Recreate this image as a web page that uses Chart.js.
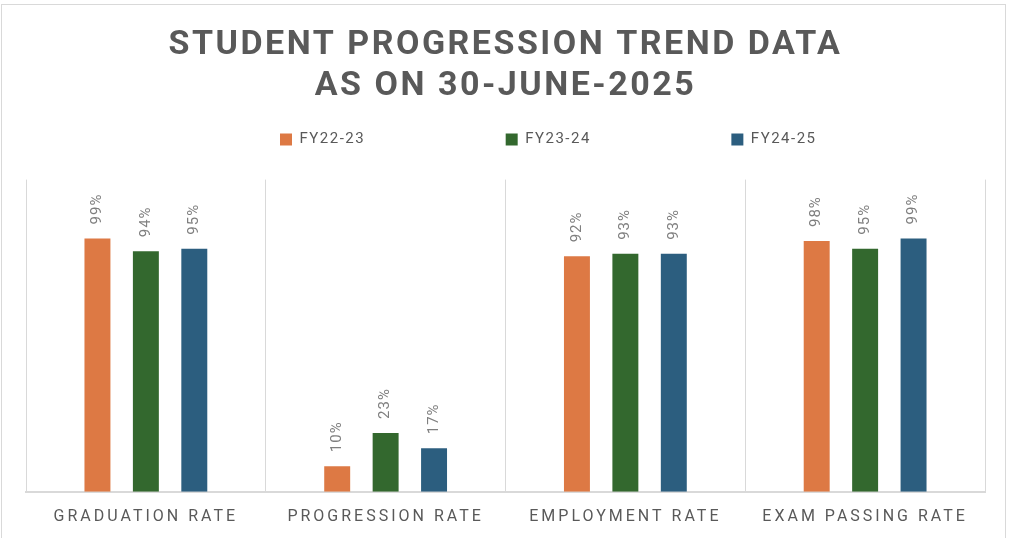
<!DOCTYPE html>
<html>
<head>
<meta charset="utf-8">
<script src="https://cdn.jsdelivr.net/npm/chart.js@4.4.1/dist/chart.umd.min.js"></script>
<style>
  html, body { margin: 0; padding: 0; background: #fff; overflow: hidden; }
  #frame { position: absolute; left: 1px; top: 4px; width: 1005px; height: 560px; border: 1px solid #d9d9d9; box-sizing: border-box; }
  #wrap { position: absolute; left: 0; top: 0; width: 1016px; height: 538px; }
</style>
</head>
<body>
<div id="frame"></div>
<div id="wrap"><canvas id="chart"></canvas></div>
<script>
// categories + series (percent)
const categories = ["GRADUATION RATE", "PROGRESSION RATE", "EMPLOYMENT RATE", "EXAM PASSING RATE"];
const seriesNames = ["FY22-23", "FY23-24", "FY24-25"];
const fy2223 = [99, 10, 92, 98];
const fy2324 = [94, 23, 93, 95];
const fy2425 = [95, 17, 93, 99];
const seriesColors = ["#DD7944", "#33682E", "#2C5E7F"];

const textGray = "#595959";

// letter spacing per chart part (canvas ctx.letterSpacing)
function spaced(obj, name, sp) {
  if (!obj || obj["_sp_" + name]) return;
  const orig = obj[name];
  obj[name] = function (...args) {
    const ctx = this.ctx;
    const prev = ctx.letterSpacing;
    ctx.letterSpacing = sp;
    orig.apply(this, args);
    ctx.letterSpacing = prev;
  };
  obj["_sp_" + name] = true;
}

const tweaks = {
  id: "tweaks",
  afterLayout(chart) {
    // move the legend row to where the original sits
    const lg = chart.legend;
    const dx = 280 - (lg.left + 10);
    const dy = 122 - lg.top;
    lg.left += dx; lg.right += dx;
    lg.top += dy; lg.bottom += dy;
  },
  beforeDraw(chart) {
    spaced(chart.titleBlock, "draw", "2.5px");
    spaced(chart.legend, "draw", "1.5px");
    spaced(chart.scales.x, "drawLabels", "3px");
  },
  afterDatasetsDraw(chart) {
    // rotated value labels above each bar
    const ctx = chart.ctx;
    chart.data.datasets.forEach((ds, i) => {
      chart.getDatasetMeta(i).data.forEach((bar, j) => {
        ctx.save();
        ctx.translate(bar.x, bar.y - 14);
        ctx.rotate(-Math.PI / 2);
        ctx.font = "15px Roboto";
        ctx.letterSpacing = "1px";
        ctx.fillStyle = "#7f7f7f";
        ctx.textAlign = "left";
        ctx.textBaseline = "middle";
        ctx.fillText(ds.data[j] + "%", 0, 0);
        ctx.restore();
      });
    });
  }
};

new Chart(document.getElementById("chart"), {
  type: "bar",
  data: {
    labels: categories,
    datasets: [
      { label: seriesNames[0], data: fy2223, backgroundColor: seriesColors[0] },
      { label: seriesNames[1], data: fy2324, backgroundColor: seriesColors[1] },
      { label: seriesNames[2], data: fy2425, backgroundColor: seriesColors[2] }
    ]
  },
  options: {
    responsive: true,
    maintainAspectRatio: false,
    animation: false,
    datasets: { bar: { categoryPercentage: 0.606, barPercentage: 0.536 } },
    layout: { padding: { left: 26, right: 31, top: 0, bottom: -5 } },
    plugins: {
      tooltip: { enabled: false },
      title: {
        display: true,
        text: ["STUDENT PROGRESSION TREND DATA", "AS ON 30-JUNE-2025"],
        color: textGray,
        font: { family: "Roboto", size: 34, weight: "bold", lineHeight: 1.2 },
        padding: { top: 25, bottom: 38 }
      },
      legend: {
        display: true,
        align: "start",
        labels: {
          color: textGray,
          font: { family: "Roboto", size: 15 },
          boxWidth: 12,
          boxHeight: 12,
          padding: 10,
          generateLabels(chart) {
            const items = Chart.defaults.plugins.legend.labels.generateLabels(chart);
            const ctx = chart.ctx;
            ctx.save();
            ctx.font = "15px Roboto";
            ctx.letterSpacing = "1.5px";
            items.forEach((it, i) => {
              if (i === items.length - 1) return;
              let t = it.text;
              while (ctx.measureText(t + "\u00a0").width <= 198) t += "\u00a0";
              it.text = t;
            });
            ctx.restore();
            return items;
          }
        }
      }
    },
    scales: {
      x: {
        grid: { display: true, offset: true, color: "#d9d9d9", lineWidth: 1, drawTicks: false },
        border: { display: true, color: "#d9d9d9", width: 2 },
        ticks: { color: textGray, font: { family: "Roboto", size: 16 }, padding: 16, maxRotation: 0 }
      },
      y: {
        display: false,
        min: 0,
        max: 122
      }
    }
  },
  plugins: [tweaks]
});
</script>
</body>
</html>
